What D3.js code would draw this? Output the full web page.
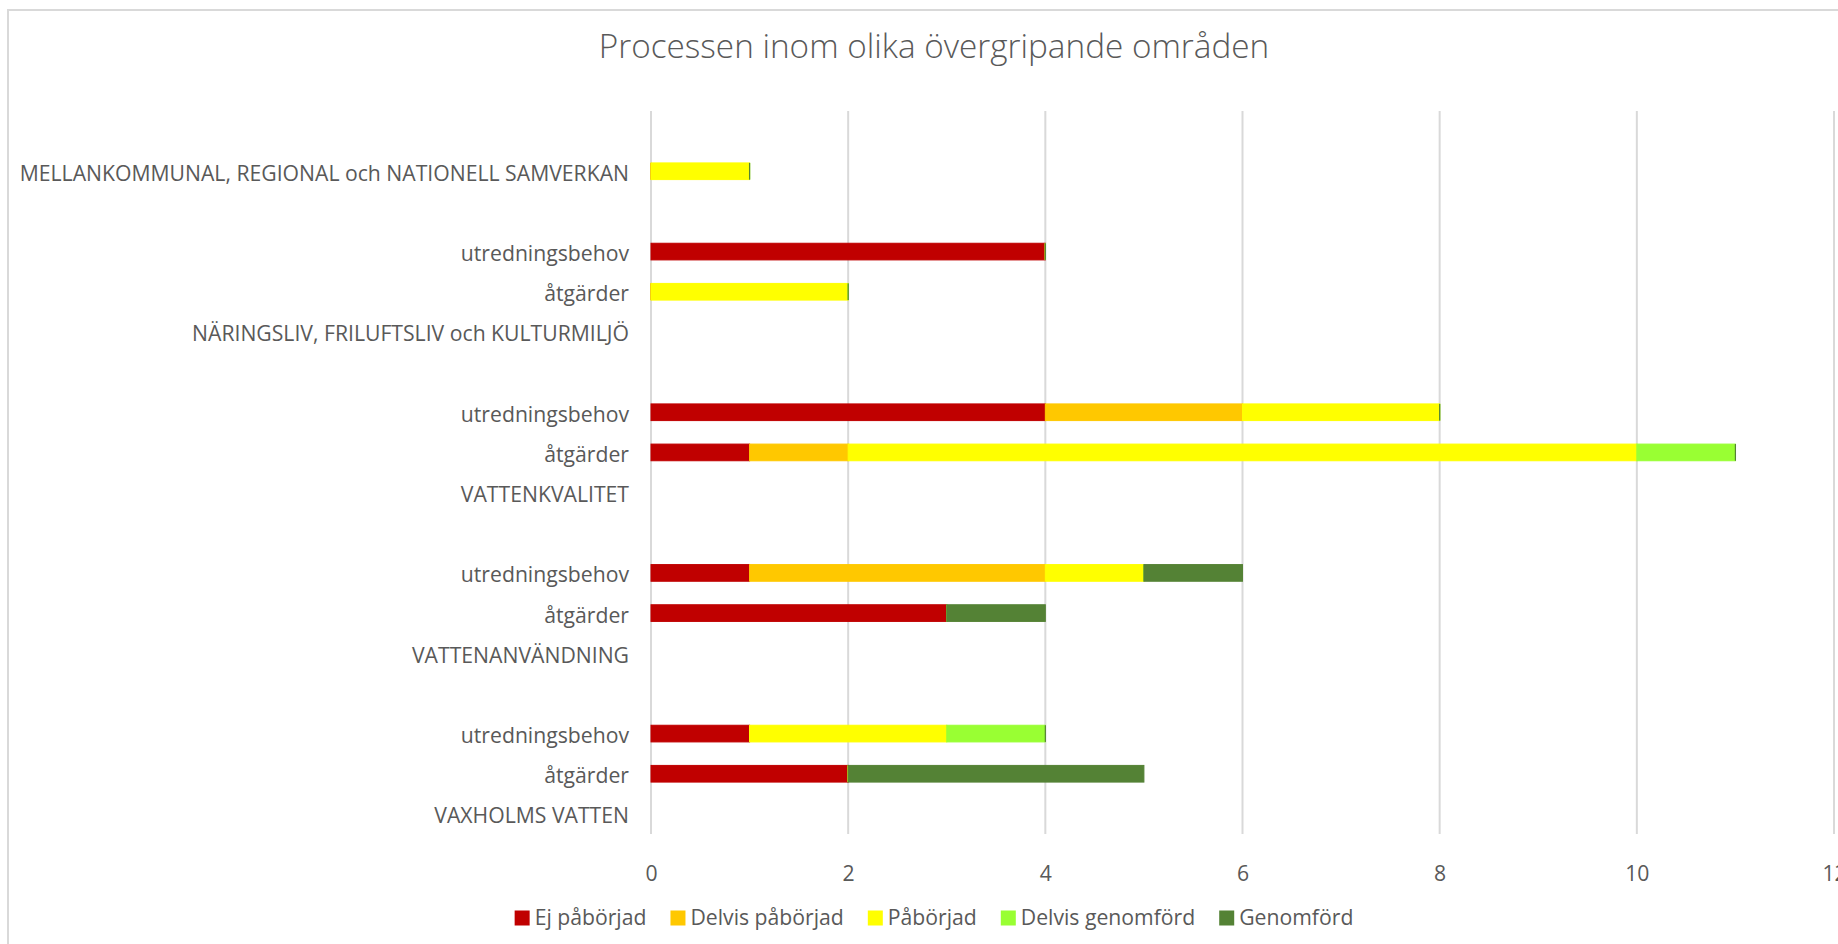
<!DOCTYPE html>
<html>
<head>
<meta charset="utf-8">
<script src="https://cdn.jsdelivr.net/npm/d3@7"></script>
<style>
  html, body { margin: 0; padding: 0; background: #fff; overflow: hidden; }
  svg { display: block; }
  text { font-family: "Open Sans", Lato, sans-serif; fill: #595959; }
</style>
</head>
<body>
<svg id="chart" width="1838" height="944"></svg>
<script>
// Row labels, top to bottom (empty strings are spacer rows)
const categories = [
  "",
  "MELLANKOMMUNAL, REGIONAL och NATIONELL SAMVERKAN",
  "",
  "utredningsbehov",
  "åtgärder",
  "NÄRINGSLIV, FRILUFTSLIV och KULTURMILJÖ",
  "",
  "utredningsbehov",
  "åtgärder",
  "VATTENKVALITET",
  "",
  "utredningsbehov",
  "åtgärder",
  "VATTENANVÄNDNING",
  "",
  "utredningsbehov",
  "åtgärder",
  "VAXHOLMS VATTEN"
];

// Counts per status (null = no data on that row)
const ejPaborjad      = [null, 0, null, 4, 0, null, null, 4, 1, null, null, 1, 3, null, null, 1, 2, null];
const delvisPaborjad  = [null, 0, null, 0, 0, null, null, 2, 1, null, null, 3, 0, null, null, 0, 0, null];
const paborjad        = [null, 1, null, 0, 2, null, null, 2, 8, null, null, 1, 0, null, null, 2, 0, null];
const delvisGenomford = [null, 0, null, 0, 0, null, null, 0, 1, null, null, 0, 0, null, null, 1, 0, null];
const genomford       = [null, 0, null, 0, 0, null, null, 0, 0, null, null, 1, 1, null, null, 0, 3, null];

const seriesNames  = ["Ej påbörjad", "Delvis påbörjad", "Påbörjad", "Delvis genomförd", "Genomförd"];
const seriesColors = ["#C00000", "#FFC800", "#FFFF00", "#99FF33", "#548235"];
const seriesValues = [ejPaborjad, delvisPaborjad, paborjad, delvisGenomford, genomford];

const xTicks = [0, 2, 4, 6, 8, 10, 12];
const chartTitle = "Processen inom olika övergripande områden";

const svg = d3.select("#chart");
const plot = { left: 651, right: 1834, top: 111, bottom: 834 };

// Outer chart frame
svg.append("rect")
  .attr("x", 8).attr("y", 10)
  .attr("width", 1860).attr("height", 960)
  .attr("fill", "#fff")
  .attr("stroke", "#D9D9D9").attr("stroke-width", 2);

// Title
svg.append("text")
  .attr("x", 934).attr("y", 58)
  .attr("text-anchor", "middle")
  .style("font-weight", 300)
  .style("font-size", "33.3px")
  .text(chartTitle);

// Scales
const x = d3.scaleLinear().domain([0, 12]).range([plot.left, plot.right]);
const y = d3.scaleBand()
  .domain(categories.map((_, i) => i))
  .range([plot.top, plot.bottom])
  .paddingInner(0.585)
  .paddingOuter(0.2925);

// Vertical gridlines
svg.append("g")
  .selectAll("line")
  .data(xTicks)
  .join("line")
  .attr("x1", d => x(d)).attr("x2", d => x(d))
  .attr("y1", plot.top).attr("y2", plot.bottom)
  .attr("stroke", "#D9D9D9").attr("stroke-width", 2);

// Stacked bars
const rows = categories.map((c, i) => {
  const r = { idx: i, hasData: seriesValues.some(s => s[i] !== null) };
  seriesNames.forEach((n, k) => { r[n] = seriesValues[k][i] ?? 0; });
  return r;
});
const stacked = d3.stack().keys(seriesNames)(rows);

// Segments carry a thin outline in their own colour, so a zero count
// still leaves a hairline at the end of the stack.
const barLayer = svg.append("g");
stacked.forEach((layer, k) => {
  barLayer.append("g")
    .selectAll("rect")
    .data(layer.filter(d => d.data.hasData))
    .join("rect")
    .attr("x", d => d[1] > d[0] ? x(d[0]) : x(d[0]) - 0.6)
    .attr("y", d => y(d.data.idx))
    .attr("width", d => d[1] > d[0] ? x(d[1]) - x(d[0]) : 1.2)
    .attr("height", y.bandwidth())
    .attr("fill", seriesColors[k])
    .attr("stroke", seriesColors[k])
    .attr("stroke-width", d => d[1] > d[0] ? 1 : 0);
});

// Category labels
const yAxis = d3.axisLeft(y)
  .tickSize(0)
  .tickPadding(22)
  .tickFormat(i => categories[i]);
const yg = svg.append("g")
  .attr("transform", `translate(${plot.left},0)`)
  .call(yAxis);
yg.select(".domain").remove();
yg.selectAll("text")
  .attr("dy", "0.45em")
  .style("font-size", "21.2px")
  .style("font-family", "'Open Sans', sans-serif")
  .attr("fill", "#595959");

// Value axis labels
const xAxis = d3.axisBottom(x).tickValues(xTicks).tickSize(0).tickPadding(0);
const xg = svg.append("g")
  .attr("transform", `translate(0,${plot.bottom})`)
  .call(xAxis);
xg.select(".domain").remove();
xg.selectAll("text")
  .attr("y", 40)
  .attr("dy", "0.35em")
  .style("font-size", "21.2px")
  .style("font-family", "'Open Sans', sans-serif")
  .attr("fill", "#595959");

// Legend
const legend = svg.append("g");
const items = legend.selectAll("g")
  .data(seriesNames)
  .join("g");
items.append("rect")
  .attr("width", 15).attr("height", 15)
  .attr("y", -7.5)
  .attr("fill", (d, i) => seriesColors[i]);
items.append("text")
  .attr("x", 20)
  .attr("dy", "0.35em")
  .style("font-size", "21.2px")
  .text(d => d);
let offset = 0;
items.each(function () {
  const g = d3.select(this);
  const w = 20 + g.select("text").node().getComputedTextLength();
  g.attr("transform", `translate(${offset},0)`);
  offset += w + 24;
});
const legendWidth = offset - 24;
legend.attr("transform", `translate(${934 - legendWidth / 2},918)`);
</script>
</body>
</html>
